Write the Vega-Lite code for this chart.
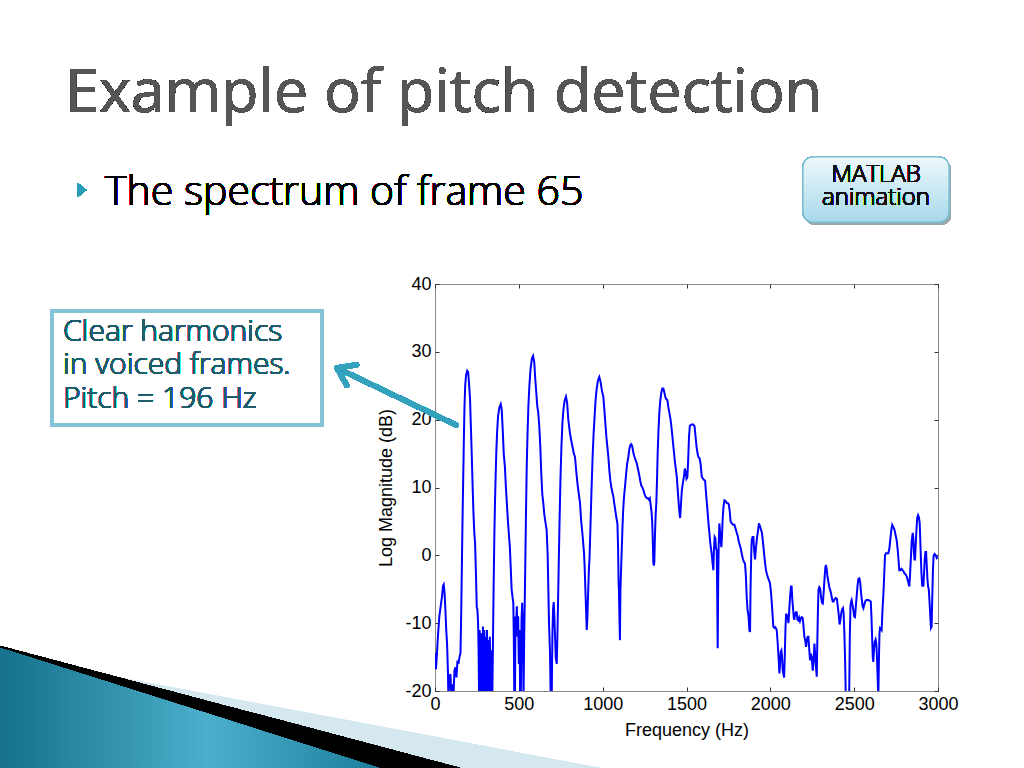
{
  "$schema": "https://vega.github.io/schema/vega-lite/v6.json",
  "autosize": "none",
  "width": 503,
  "height": 407,
  "padding": {"left": 435, "top": 284, "right": 86, "bottom": 77},
  "background": "white",
  "config": {
    "view": {"stroke": "#8a8a8a", "strokeWidth": 1}
  },
  "resolve": {"axis": {"x": "independent", "y": "independent"}},
  "data": {"values": [
    {"f":0,"db":-14.4},{"f":6,"db":-16.8},{"f":14,"db":-13.4},{"f":20,"db":-11},{"f":26,"db":-9},{"f":34,"db":-7.5},{"f":42,"db":-6},{"f":48,"db":-4.5},{"f":52,"db":-4.3},{"f":57,"db":-5.5},{"f":62,"db":-8},{"f":67,"db":-11},{"f":72,"db":-13},{"f":77,"db":-17},{"f":80,"db":-21},{"f":86,"db":-18},{"f":92,"db":-17.5},{"f":98,"db":-21},{"f":104,"db":-19},{"f":110,"db":-21},{"f":116,"db":-17},{"f":122,"db":-16.5},{"f":128,"db":-18},{"f":134,"db":-15.5},{"f":140,"db":-16},{"f":146,"db":-15},{"f":152,"db":-14.4},{"f":156,"db":-9},{"f":160,"db":-2},{"f":164,"db":5},{"f":168,"db":11},{"f":172,"db":17},{"f":176,"db":22},{"f":180,"db":25},{"f":185,"db":26.5},{"f":192,"db":27.2},{"f":198,"db":27},{"f":204,"db":25},{"f":209,"db":23},{"f":214,"db":19},{"f":219,"db":15},{"f":224,"db":10.5},{"f":229,"db":6.5},{"f":234,"db":3.5},{"f":239,"db":1.8},{"f":244,"db":-2.5},{"f":249,"db":-7.6},{"f":253,"db":-8},{"f":257,"db":-10},{"f":260,"db":-14},{"f":263,"db":-21},{"f":266,"db":-11},{"f":270,"db":-13},{"f":274,"db":-21},{"f":278,"db":-11.5},{"f":282,"db":-21},{"f":286,"db":-10.5},{"f":290,"db":-21},{"f":294,"db":-11},{"f":298,"db":-21},{"f":302,"db":-12},{"f":306,"db":-21},{"f":310,"db":-11},{"f":314,"db":-21},{"f":318,"db":-12.5},{"f":322,"db":-21},{"f":327,"db":-12},{"f":332,"db":-21},{"f":337,"db":-14},{"f":342,"db":-21},{"f":346,"db":-12},{"f":350,"db":-4},{"f":354,"db":3},{"f":358,"db":8},{"f":362,"db":12},{"f":366,"db":15.5},{"f":370,"db":18},{"f":376,"db":20.5},{"f":384,"db":21.8},{"f":392,"db":22.3},{"f":398,"db":21.5},{"f":404,"db":18.5},{"f":410,"db":15},{"f":417,"db":13},{"f":423,"db":10},{"f":429,"db":7.5},{"f":435,"db":5},{"f":441,"db":3},{"f":447,"db":1},{"f":452,"db":-2},{"f":457,"db":-5},{"f":462,"db":-6.1},{"f":467,"db":-7},{"f":470,"db":-12},{"f":473,"db":-21},{"f":477,"db":-21},{"f":480,"db":-9},{"f":484,"db":-10},{"f":488,"db":-7.5},{"f":492,"db":-12},{"f":496,"db":-9},{"f":500,"db":-16},{"f":504,"db":-11},{"f":508,"db":-21},{"f":512,"db":-21},{"f":516,"db":-9.5},{"f":520,"db":-7},{"f":524,"db":-11},{"f":528,"db":-21},{"f":532,"db":-12},{"f":537,"db":-4},{"f":542,"db":5},{"f":547,"db":13},{"f":552,"db":18},{"f":557,"db":22},{"f":563,"db":25},{"f":570,"db":27.5},{"f":578,"db":29},{"f":585,"db":29.4},{"f":592,"db":28.5},{"f":598,"db":26},{"f":604,"db":24},{"f":610,"db":22},{"f":616,"db":21},{"f":622,"db":19},{"f":628,"db":16},{"f":634,"db":12},{"f":640,"db":9},{"f":646,"db":7.7},{"f":652,"db":6},{"f":658,"db":5},{"f":666,"db":3.7},{"f":672,"db":0},{"f":676,"db":-5},{"f":680,"db":-10},{"f":686,"db":-14.4},{"f":690,"db":-21},{"f":696,"db":-21},{"f":700,"db":-12},{"f":704,"db":-8},{"f":708,"db":-6.9},{"f":712,"db":-9},{"f":716,"db":-12},{"f":720,"db":-15},{"f":726,"db":-16},{"f":730,"db":-12},{"f":736,"db":-4},{"f":742,"db":4},{"f":748,"db":11},{"f":754,"db":16},{"f":760,"db":19.5},{"f":766,"db":21.5},{"f":773,"db":22.8},{"f":781,"db":23.4},{"f":788,"db":22.5},{"f":795,"db":20},{"f":805,"db":18},{"f":812,"db":17},{"f":820,"db":16},{"f":828,"db":15},{"f":835,"db":14.5},{"f":842,"db":12.5},{"f":850,"db":10.5},{"f":858,"db":9},{"f":865,"db":7.7},{"f":872,"db":5},{"f":880,"db":3},{"f":889,"db":0.3},{"f":893,"db":-2},{"f":897,"db":-5.1},{"f":901,"db":-8},{"f":905,"db":-11},{"f":909,"db":-9},{"f":914,"db":-5},{"f":918,"db":-2},{"f":922,"db":-0.2},{"f":928,"db":5},{"f":934,"db":10},{"f":940,"db":14.5},{"f":946,"db":18},{"f":952,"db":20.5},{"f":958,"db":23},{"f":964,"db":24.5},{"f":972,"db":25.8},{"f":980,"db":26.3},{"f":988,"db":25.5},{"f":996,"db":24.2},{"f":1004,"db":23.4},{"f":1010,"db":21.5},{"f":1016,"db":19.5},{"f":1022,"db":17.5},{"f":1028,"db":16},{"f":1034,"db":14.5},{"f":1040,"db":12.5},{"f":1046,"db":11},{"f":1052,"db":10},{"f":1058,"db":9.3},{"f":1064,"db":8.6},{"f":1070,"db":7.5},{"f":1076,"db":6.5},{"f":1082,"db":5.5},{"f":1088,"db":4.7},{"f":1092,"db":1},{"f":1095,"db":-4},{"f":1097,"db":-5.1},{"f":1100,"db":-9},{"f":1103,"db":-12.5},{"f":1106,"db":-5},{"f":1110,"db":-2},{"f":1114,"db":1},{"f":1118,"db":4},{"f":1122,"db":6.5},{"f":1127,"db":8.5},{"f":1133,"db":10.1},{"f":1140,"db":12},{"f":1146,"db":13.5},{"f":1153,"db":14.5},{"f":1160,"db":15.8},{"f":1166,"db":16.3},{"f":1171,"db":16.4},{"f":1177,"db":16},{"f":1184,"db":15},{"f":1190,"db":14.5},{"f":1197,"db":14},{"f":1203,"db":13.6},{"f":1210,"db":12.8},{"f":1217,"db":12},{"f":1224,"db":11},{"f":1230,"db":10.3},{"f":1237,"db":10},{"f":1243,"db":9.6},{"f":1250,"db":9},{"f":1257,"db":8.6},{"f":1264,"db":8.4},{"f":1271,"db":8.4},{"f":1276,"db":8.2},{"f":1281,"db":8.4},{"f":1286,"db":7.5},{"f":1291,"db":6.5},{"f":1295,"db":5.2},{"f":1298,"db":3},{"f":1302,"db":-1},{"f":1305,"db":-1.5},{"f":1308,"db":-1},{"f":1312,"db":3},{"f":1316,"db":6},{"f":1320,"db":7.7},{"f":1324,"db":11},{"f":1328,"db":15},{"f":1333,"db":18.5},{"f":1338,"db":21},{"f":1343,"db":22.7},{"f":1350,"db":24},{"f":1356,"db":24.6},{"f":1362,"db":24.6},{"f":1368,"db":24},{"f":1374,"db":23.3},{"f":1380,"db":23},{"f":1386,"db":22.9},{"f":1392,"db":21.8},{"f":1398,"db":21},{"f":1405,"db":20},{"f":1412,"db":18.5},{"f":1418,"db":17},{"f":1424,"db":15.5},{"f":1430,"db":14},{"f":1436,"db":12.8},{"f":1442,"db":11.6},{"f":1448,"db":9.5},{"f":1454,"db":7.5},{"f":1459,"db":6},{"f":1462,"db":5.5},{"f":1467,"db":7.5},{"f":1472,"db":9.5},{"f":1478,"db":10.6},{"f":1484,"db":11.5},{"f":1490,"db":12.8},{"f":1495,"db":12.3},{"f":1500,"db":11.3},{"f":1505,"db":11.5},{"f":1510,"db":14},{"f":1515,"db":17.5},{"f":1520,"db":19.1},{"f":1530,"db":19.3},{"f":1540,"db":19.3},{"f":1548,"db":19},{"f":1554,"db":17.5},{"f":1560,"db":16},{"f":1566,"db":15},{"f":1571,"db":14.5},{"f":1578,"db":14.3},{"f":1584,"db":13.5},{"f":1591,"db":11.6},{"f":1598,"db":11.3},{"f":1605,"db":11.1},{"f":1611,"db":11},{"f":1617,"db":9},{"f":1624,"db":7},{"f":1631,"db":4.7},{"f":1636,"db":3.5},{"f":1641,"db":2},{"f":1646,"db":1},{"f":1650,"db":0.3},{"f":1655,"db":-1},{"f":1660,"db":-2.2},{"f":1664,"db":1},{"f":1668,"db":2.7},{"f":1672,"db":2.5},{"f":1676,"db":1},{"f":1680,"db":0.8},{"f":1683,"db":-5},{"f":1686,"db":-13.7},{"f":1689,"db":-4},{"f":1692,"db":1.5},{"f":1696,"db":4.7},{"f":1700,"db":3.5},{"f":1704,"db":2},{"f":1708,"db":1.2},{"f":1712,"db":3},{"f":1716,"db":5.5},{"f":1720,"db":7},{"f":1726,"db":8.1},{"f":1733,"db":8},{"f":1740,"db":7.7},{"f":1746,"db":7.7},{"f":1752,"db":7.5},{"f":1758,"db":6.5},{"f":1763,"db":5},{"f":1770,"db":4.7},{"f":1778,"db":4.5},{"f":1786,"db":4.5},{"f":1792,"db":4},{"f":1800,"db":3.3},{"f":1806,"db":2.8},{"f":1812,"db":2},{"f":1818,"db":1.5},{"f":1824,"db":1},{"f":1829,"db":0.3},{"f":1836,"db":-0.5},{"f":1843,"db":-1},{"f":1849,"db":-1.2},{"f":1854,"db":-3},{"f":1859,"db":-6.1},{"f":1864,"db":-8},{"f":1870,"db":-9},{"f":1875,"db":-11},{"f":1879,"db":-11.3},{"f":1882,"db":-5},{"f":1886,"db":0},{"f":1889,"db":2.2},{"f":1894,"db":2.7},{"f":1899,"db":2.7},{"f":1904,"db":0.5},{"f":1909,"db":-0.6},{"f":1914,"db":1},{"f":1920,"db":2.5},{"f":1926,"db":3.5},{"f":1932,"db":4.7},{"f":1938,"db":4.3},{"f":1944,"db":3.8},{"f":1950,"db":3.3},{"f":1956,"db":2},{"f":1962,"db":0.5},{"f":1968,"db":-1},{"f":1974,"db":-2.2},{"f":1980,"db":-2.8},{"f":1986,"db":-3.3},{"f":1992,"db":-3.7},{"f":1998,"db":-4.1},{"f":2004,"db":-5.5},{"f":2010,"db":-7.5},{"f":2014,"db":-9},{"f":2018,"db":-10.5},{"f":2024,"db":-10.7},{"f":2030,"db":-10.6},{"f":2038,"db":-11},{"f":2044,"db":-13},{"f":2050,"db":-15.5},{"f":2054,"db":-17.4},{"f":2058,"db":-16},{"f":2062,"db":-14.2},{"f":2066,"db":-14},{"f":2070,"db":-15},{"f":2074,"db":-17},{"f":2078,"db":-17.5},{"f":2082,"db":-18},{"f":2086,"db":-15},{"f":2090,"db":-11},{"f":2094,"db":-8.6},{"f":2098,"db":-8.8},{"f":2103,"db":-9},{"f":2108,"db":-10},{"f":2113,"db":-8},{"f":2118,"db":-6},{"f":2123,"db":-4.6},{"f":2127,"db":-4.6},{"f":2131,"db":-6.5},{"f":2136,"db":-8},{"f":2140,"db":-9.2},{"f":2143,"db":-9.5},{"f":2148,"db":-8.6},{"f":2153,"db":-8.4},{"f":2157,"db":-8.4},{"f":2162,"db":-9.5},{"f":2167,"db":-9.6},{"f":2172,"db":-9.2},{"f":2177,"db":-9.7},{"f":2182,"db":-9.3},{"f":2187,"db":-9.1},{"f":2193,"db":-9.2},{"f":2198,"db":-10.5},{"f":2203,"db":-12},{"f":2208,"db":-12.5},{"f":2213,"db":-13.5},{"f":2218,"db":-12.5},{"f":2223,"db":-12},{"f":2227,"db":-12},{"f":2231,"db":-13.5},{"f":2237,"db":-15.5},{"f":2242,"db":-14.5},{"f":2247,"db":-15},{"f":2253,"db":-17},{"f":2258,"db":-15.5},{"f":2263,"db":-13},{"f":2267,"db":-14.5},{"f":2272,"db":-16.5},{"f":2277,"db":-17.9},{"f":2280,"db":-13},{"f":2284,"db":-8},{"f":2287,"db":-5.1},{"f":2292,"db":-4.7},{"f":2297,"db":-4.9},{"f":2302,"db":-6},{"f":2308,"db":-7},{"f":2313,"db":-7.1},{"f":2318,"db":-5.5},{"f":2323,"db":-3.5},{"f":2328,"db":-1.8},{"f":2331,"db":-1.4},{"f":2336,"db":-2},{"f":2341,"db":-3.2},{"f":2347,"db":-4},{"f":2352,"db":-4.7},{"f":2357,"db":-5.1},{"f":2362,"db":-5.6},{"f":2367,"db":-6.3},{"f":2372,"db":-6.8},{"f":2377,"db":-6.8},{"f":2383,"db":-6.5},{"f":2390,"db":-6.3},{"f":2397,"db":-6.4},{"f":2402,"db":-7.5},{"f":2407,"db":-8.5},{"f":2413,"db":-10.2},{"f":2418,"db":-9.5},{"f":2423,"db":-8.5},{"f":2428,"db":-8},{"f":2433,"db":-7.8},{"f":2437,"db":-8.5},{"f":2441,"db":-11},{"f":2446,"db":-15.5},{"f":2450,"db":-21},{"f":2470,"db":-21},{"f":2474,"db":-12},{"f":2478,"db":-7.5},{"f":2482,"db":-6.8},{"f":2485,"db":-6.6},{"f":2490,"db":-7.3},{"f":2495,"db":-8},{"f":2500,"db":-9},{"f":2505,"db":-9.1},{"f":2510,"db":-7.5},{"f":2515,"db":-6},{"f":2520,"db":-4.5},{"f":2525,"db":-3.5},{"f":2531,"db":-3.4},{"f":2536,"db":-4},{"f":2541,"db":-5.5},{"f":2546,"db":-6.6},{"f":2550,"db":-7.5},{"f":2555,"db":-7.8},{"f":2560,"db":-7.3},{"f":2566,"db":-6.8},{"f":2572,"db":-6.6},{"f":2579,"db":-6.6},{"f":2586,"db":-6.6},{"f":2593,"db":-6.7},{"f":2599,"db":-6.8},{"f":2603,"db":-9},{"f":2607,"db":-12},{"f":2611,"db":-15},{"f":2614,"db":-15.7},{"f":2618,"db":-14},{"f":2622,"db":-12.8},{"f":2628,"db":-12.4},{"f":2632,"db":-13},{"f":2636,"db":-15},{"f":2640,"db":-18},{"f":2644,"db":-21},{"f":2648,"db":-15},{"f":2651,"db":-11.5},{"f":2654,"db":-10.7},{"f":2659,"db":-10.8},{"f":2664,"db":-11},{"f":2669,"db":-8},{"f":2674,"db":-5.9},{"f":2679,"db":-3},{"f":2684,"db":0},{"f":2690,"db":0.3},{"f":2697,"db":0.3},{"f":2704,"db":0.3},{"f":2710,"db":1},{"f":2716,"db":2.5},{"f":2722,"db":3.8},{"f":2727,"db":4.5},{"f":2733,"db":4.2},{"f":2740,"db":3.8},{"f":2747,"db":3},{"f":2753,"db":2.3},{"f":2759,"db":1},{"f":2764,"db":-0.5},{"f":2769,"db":-2.2},{"f":2775,"db":-2.2},{"f":2782,"db":-2},{"f":2789,"db":-2.2},{"f":2795,"db":-2.4},{"f":2801,"db":-2.7},{"f":2807,"db":-2.8},{"f":2813,"db":-3.1},{"f":2819,"db":-3.6},{"f":2825,"db":-4.2},{"f":2829,"db":-4.6},{"f":2833,"db":-3},{"f":2838,"db":-0.5},{"f":2843,"db":2},{"f":2849,"db":3.3},{"f":2853,"db":2.5},{"f":2856,"db":0.5},{"f":2860,"db":-0.6},{"f":2863,"db":-0.6},{"f":2867,"db":1.5},{"f":2872,"db":4},{"f":2876,"db":5.5},{"f":2881,"db":5.9},{"f":2886,"db":5.6},{"f":2891,"db":4.7},{"f":2896,"db":1},{"f":2901,"db":-2.5},{"f":2906,"db":-4.6},{"f":2910,"db":-4.2},{"f":2913,"db":-4.6},{"f":2917,"db":-2.5},{"f":2921,"db":-0.5},{"f":2925,"db":0.5},{"f":2929,"db":0.5},{"f":2933,"db":-1.5},{"f":2937,"db":-3.5},{"f":2941,"db":-4.6},{"f":2945,"db":-5},{"f":2950,"db":-7},{"f":2954,"db":-9},{"f":2958,"db":-10.7},{"f":2962,"db":-10.5},{"f":2966,"db":-6},{"f":2970,"db":-2},{"f":2974,"db":0},{"f":2980,"db":0.2},{"f":2986,"db":0},{"f":2993,"db":-0.4},{"f":3000,"db":-0.2}
  ]},
  "layer": [
    {
      "mark": {"type": "point", "shape": "M 0 -113 L 600 0 L 0 0 Z", "size": 4, "filled": true, "opacity": 1, "fill": "#d5e7ef", "strokeWidth": 0, "clip": false},
      "encoding": {"x": {"datum": -2594.4, "type": "quantitative", "axis": null}, "y": {"datum": -31.35, "type": "quantitative", "axis": null}}
    },
    {
      "mark": {"type": "point", "shape": "M 0 -122 L 460 0 L 0 0 Z", "size": 4, "filled": true, "opacity": 1, "fill": "#000000", "strokeWidth": 0, "clip": false},
      "encoding": {"x": {"datum": -2594.4, "type": "quantitative", "axis": null}, "y": {"datum": -31.35, "type": "quantitative", "axis": null}}
    },
    {
      "mark": {"type": "point", "shape": "M 0 -120 L 379 0 L 0 0 Z", "size": 4, "filled": true, "opacity": 1, "strokeWidth": 0, "clip": false,
        "fill": {"gradient": "linear", "x1": 0, "y1": 0, "x2": 1, "y2": 0, "stops": [{"offset": 0, "color": "#15718c"}, {"offset": 0.55, "color": "#4cafcb"}, {"offset": 1, "color": "#1c7e9a"}]}},
      "encoding": {"x": {"datum": -2594.4, "type": "quantitative", "axis": null}, "y": {"datum": -31.35, "type": "quantitative", "axis": null}}
    },
    {
      "mark": {"type": "line", "color": "#0000ff", "strokeWidth": 2, "clip": true},
      "encoding": {
        "x": {"field": "f", "type": "quantitative", "scale": {"domain": [0, 3000], "nice": false, "zero": false},
          "axis": {"title": "Frequency (Hz)", "values": [0, 500, 1000, 1500, 2000, 2500, 3000], "labelExpr": "'' + datum.value",
            "domain": false, "grid": false, "tickSize": -4, "tickColor": "#333", "labelPadding": 8, "labelFlush": false,
            "labelFont": "Liberation Sans", "labelFontSize": 18, "labelColor": "#000",
            "titleFont": "Liberation Sans", "titleFontSize": 18, "titleFontWeight": "normal", "titleColor": "#000", "titlePadding": 8}},
        "y": {"field": "db", "type": "quantitative", "scale": {"domain": [-20, 40], "nice": false, "zero": false},
          "axis": {"title": "Log Magnitude (dB)", "values": [-20, -10, 0, 10, 20, 30, 40], "labelExpr": "'' + datum.value",
            "domain": false, "grid": false, "tickSize": -4, "tickColor": "#333", "labelPadding": 8,
            "labelFont": "Liberation Sans", "labelFontSize": 18, "labelColor": "#000",
            "titleFont": "Liberation Sans", "titleFontSize": 18, "titleFontWeight": "normal", "titleColor": "#000", "titlePadding": 9}}
      }
    },
    {
      "mark": {"type": "line", "opacity": 0, "clip": true},
      "encoding": {
        "x": {"field": "f", "type": "quantitative", "axis": {"orient": "top", "values": [0, 500, 1000, 1500, 2000, 2500, 3000], "labels": false, "title": null, "domain": false, "grid": false, "tickSize": -4, "tickColor": "#333"}},
        "y": {"field": "db", "type": "quantitative", "axis": {"orient": "right", "values": [-20, -10, 0, 10, 20, 30, 40], "labels": false, "title": null, "domain": false, "grid": false, "tickSize": -4, "tickColor": "#333"}}
      }
    },
    {
      "mark": {"type": "text", "text": "Example of pitch detection", "font": "Open Sans", "fontSize": 61, "color": "#555555", "align": "left", "baseline": "alphabetic", "clip": false},
      "encoding": {"x": {"datum": -2206.8, "type": "quantitative", "axis": null}, "y": {"datum": 65.36, "type": "quantitative", "axis": null}}
    },
    {
      "mark": {"type": "point", "shape": "M -0.6 -1 L 0.6 0 L -0.6 1 Z", "size": 196, "filled": true, "opacity": 1, "fill": "#2b9cb8", "strokeWidth": 0, "clip": false},
      "encoding": {"x": {"datum": -2105.4, "type": "quantitative", "axis": null}, "y": {"datum": 53.86, "type": "quantitative", "axis": null}}
    },
    {
      "mark": {"type": "text", "text": "The spectrum of frame 65", "font": "Open Sans", "fontSize": 41, "fontWeight": 300, "color": "#000000", "align": "left", "baseline": "alphabetic", "clip": false},
      "encoding": {"x": {"datum": -1968.2, "type": "quantitative", "axis": null}, "y": {"datum": 51.65, "type": "quantitative", "axis": null}}
    },
    {
      "mark": {"type": "rect", "cornerRadius": 10, "fill": "#9aa8ad", "opacity": 0.45, "clip": false},
      "encoding": {"x": {"datum": 2206.8, "type": "quantitative", "axis": null}, "x2": {"datum": 3077.5}, "y": {"datum": 58.28, "type": "quantitative", "axis": null}, "y2": {"datum": 48.70}}
    },
    {
      "mark": {"type": "rect", "cornerRadius": 10, "stroke": "#7bbdd1", "strokeWidth": 1.2, "clip": false,
        "fill": {"gradient": "linear", "x1": 0, "y1": 0, "x2": 0, "y2": 1, "stops": [{"offset": 0, "color": "#eef8fc"}, {"offset": 1, "color": "#a7d9ea"}]}},
      "encoding": {"x": {"datum": 2194.8, "type": "quantitative", "axis": null}, "x2": {"datum": 3065.6}, "y": {"datum": 58.72, "type": "quantitative", "axis": null}, "y2": {"datum": 49.14}}
    },
    {
      "mark": {"type": "text", "text": ["MATLAB", "animation"], "lineHeight": 23, "font": "Open Sans", "fontSize": 24, "fontWeight": 300, "color": "#111111", "align": "center", "baseline": "alphabetic", "clip": false},
      "encoding": {"x": {"datum": 2630.2, "type": "quantitative", "axis": null}, "y": {"datum": 55.04, "type": "quantitative", "axis": null}}
    },
    {
      "mark": {"type": "rect", "fill": "#ffffff", "stroke": "#84c4d6", "strokeWidth": 4, "clip": false},
      "encoding": {"x": {"datum": -2284.3, "type": "quantitative", "axis": null}, "x2": {"datum": -674.0}, "y": {"datum": 36.02, "type": "quantitative", "axis": null}, "y2": {"datum": 19.21}}
    },
    {
      "mark": {"type": "text", "text": ["Clear harmonics", "in voiced frames.", "Pitch = 196 Hz"], "lineHeight": 33.5, "font": "Open Sans", "fontSize": 30, "fontWeight": 300, "color": "#1e5d6c", "align": "left", "baseline": "alphabetic", "clip": false},
      "encoding": {"x": {"datum": -2218.7, "type": "quantitative", "axis": null}, "y": {"datum": 31.60, "type": "quantitative", "axis": null}}
    },
    {
      "mark": {"type": "rule", "color": "#35a2bd", "strokeWidth": 5, "strokeCap": "round", "clip": false},
      "encoding": {"x": {"datum": 125.2, "type": "quantitative", "axis": null}, "x2": {"datum": -584.5}, "y": {"datum": 19.21, "type": "quantitative", "axis": null}, "y2": {"datum": 27.62}}
    },
    {
      "mark": {"type": "rule", "color": "#35a2bd", "strokeWidth": 5, "strokeCap": "round", "clip": false},
      "encoding": {"x": {"datum": -584.5, "type": "quantitative", "axis": null}, "x2": {"datum": -526.0}, "y": {"datum": 27.62, "type": "quantitative", "axis": null}, "y2": {"datum": 25.05}}
    },
    {
      "mark": {"type": "rule", "color": "#35a2bd", "strokeWidth": 5, "strokeCap": "round", "clip": false},
      "encoding": {"x": {"datum": -584.5, "type": "quantitative", "axis": null}, "x2": {"datum": -467.0}, "y": {"datum": 27.62, "type": "quantitative", "axis": null}, "y2": {"datum": 28.10}}
    }
  ]
}
